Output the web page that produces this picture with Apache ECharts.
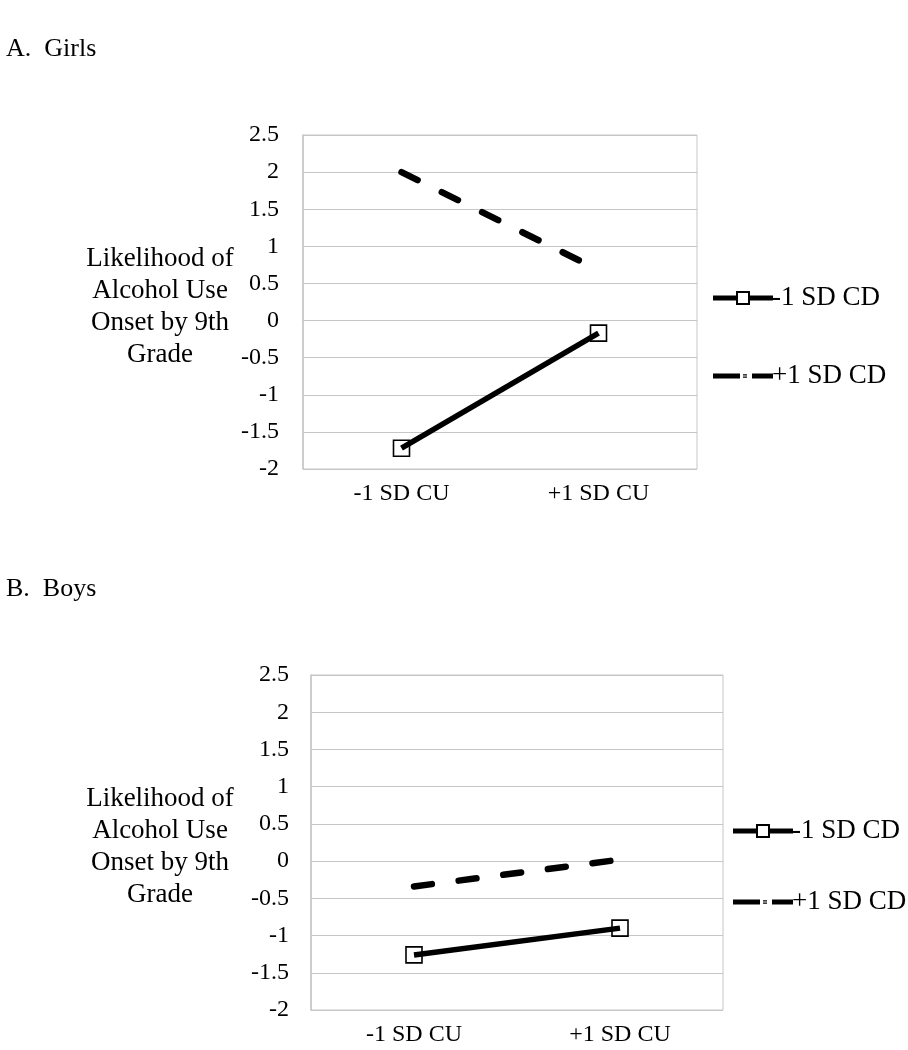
<!DOCTYPE html>
<html>
<head>
<meta charset="utf-8">
<script src="https://cdn.jsdelivr.net/npm/echarts@6/dist/echarts.min.js"></script>
<style>
html,body{margin:0;padding:0;background:#fff;}
#chart{width:908px;height:1050px;}
</style>
</head>
<body>
<div id="chart"></div>
<script>
var categories = ['-1 SD CU', '+1 SD CU'];
var seriesNames = ['-1 SD CD', '+1 SD CD'];
var girlsLowCD = [-1.72, -0.17];
var girlsHighCD = [2.0, 0.68];
var boysLowCD = [-1.26, -0.90];
var boysHighCD = [-0.34, 0.02];
var yMin = -2, yMax = 2.5, yStep = 0.5;
var panelTitles = ['A.  Girls', 'B.  Boys'];
var yAxisTitle = 'Likelihood of\nAlcohol Use\nOnset by 9th\nGrade';

var FONT = '"Liberation Serif", "Times New Roman", serif';
var GRID_C = '#c6c6c6';

// legend icons (60 x 14 box): solid line with hollow square; dashed line with small "=" marker
var ICON_SOLID = 'path://M0,4.5 L23,4.5 L23,9.5 L0,9.5 Z ' +
  'M37,4.5 L60,4.5 L60,9.5 L37,9.5 Z ' +
  'M23,0 L37,0 L37,14 L23,14 Z M25,2 L25,12 L35,12 L35,2 Z';
var ICON_DASH = 'path://M30,0 L30.01,0 L30,0.01 Z M30,14 L30.01,14 L30,13.99 Z ' +
  'M0,4.5 L27,4.5 L27,9.5 L0,9.5 Z ' +
  'M30,5.3 L34,5.3 L34,6.5 L30,6.5 Z M30,7.5 L34,7.5 L34,8.7 L30,8.7 Z ' +
  'M39,4.5 L60,4.5 L60,9.5 L39,9.5 Z';

var chart = echarts.init(document.getElementById('chart'), null, {renderer: 'canvas'});

function xAx(gi) {
  return {
    type: 'category', gridIndex: gi, data: categories, boundaryGap: true,
    axisLine: {show: true, lineStyle: {color: GRID_C, width: 1}},
    axisTick: {show: false},
    axisLabel: {color: '#000', fontFamily: FONT, fontSize: 24, margin: 13},
    splitLine: {show: false}
  };
}
function yAx(gi, margin) {
  return {
    type: 'value', gridIndex: gi, min: yMin, max: yMax, interval: yStep,
    axisLine: {show: true, lineStyle: {color: GRID_C, width: 1.5}},
    axisTick: {show: false},
    axisLabel: {color: '#000', fontFamily: FONT, fontSize: 24, margin: margin},
    splitLine: {show: true, lineStyle: {color: GRID_C, width: 1}}
  };
}
function solid(name, xi, data) {
  return {
    name: name, type: 'line', xAxisIndex: xi, yAxisIndex: xi, data: data,
    symbol: 'rect', symbolSize: 16, showSymbol: true,
    lineStyle: {color: '#000', width: 5.5, type: 'solid'},
    itemStyle: {color: 'rgba(255,255,255,0)', borderColor: '#000', borderWidth: 1.6},
    z: 3, animation: false
  };
}
function dashed(name, xi, data) {
  return {
    name: name, type: 'line', xAxisIndex: xi, yAxisIndex: xi, data: data,
    symbol: 'none',
    lineStyle: {color: '#000', width: 6.5, type: [18, 27], cap: 'round'},
    itemStyle: {color: '#000'},
    z: 2, animation: false
  };
}
function legend(left, top, gap) {
  return {
    orient: 'vertical', left: left, top: top, itemGap: gap,
    itemWidth: 60, itemHeight: 14, symbolKeepAspect: false,
    data: [
      {name: seriesNames[0], icon: ICON_SOLID, itemStyle: {color: '#000', borderWidth: 0}},
      {name: seriesNames[1], icon: ICON_DASH, itemStyle: {color: '#000', borderWidth: 0}}
    ],
    textStyle: {color: '#000', fontFamily: FONT, fontSize: 27, lineHeight: 28, padding: [2, 0, 0, -6]},
    selectedMode: false
  };
}
function yTitle(top) {
  return {
    text: yAxisTitle, left: 160, top: top, textAlign: 'center', padding: 0,
    textStyle: {color: '#000', fontFamily: FONT, fontSize: 27, lineHeight: 32, fontWeight: 'normal', align: 'center'}
  };
}

chart.setOption({
  backgroundColor: '#fff',
  animation: false,
  title: [
    {text: panelTitles[0], left: 1, top: 31, textStyle: {color: '#000', fontFamily: FONT, fontSize: 26, fontWeight: 'normal'}},
    {text: panelTitles[1], left: 1, top: 571, textStyle: {color: '#000', fontFamily: FONT, fontSize: 26, fontWeight: 'normal'}},
    yTitle(243),
    yTitle(783)
  ],
  grid: [
    {left: 303, top: 135, width: 394, height: 334, show: true, borderColor: GRID_C, borderWidth: 1, backgroundColor: 'transparent'},
    {left: 311, top: 675, width: 412, height: 335, show: true, borderColor: GRID_C, borderWidth: 1, backgroundColor: 'transparent'}
  ],
  xAxis: [xAx(0), xAx(1)],
  yAxis: [yAx(0, 24), yAx(1, 22)],
  legend: [legend(708, 278, 48), legend(728, 811, 41)],
  series: [
    solid(seriesNames[0], 0, girlsLowCD),
    dashed(seriesNames[1], 0, girlsHighCD),
    solid(seriesNames[0], 1, boysLowCD),
    dashed(seriesNames[1], 1, boysHighCD)
  ]
});
</script>
</body>
</html>
